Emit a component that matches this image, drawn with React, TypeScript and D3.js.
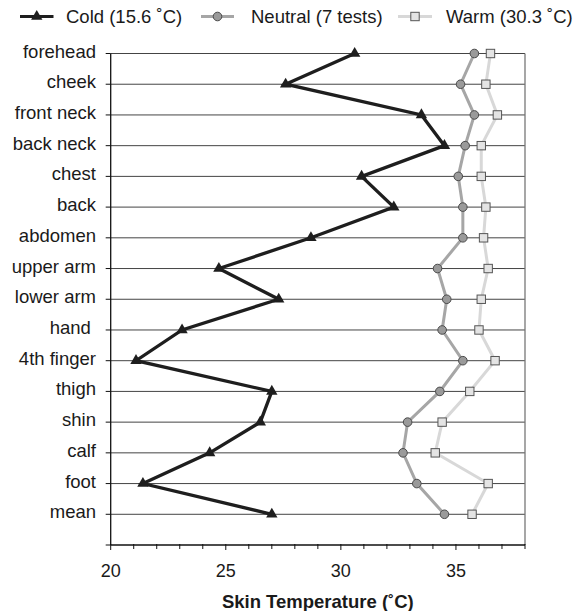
import React, { useEffect, useRef } from "react";
import * as d3 from "d3";

const categories = [
  "forehead", "cheek", "front neck", "back neck", "chest", "back", "abdomen",
  "upper arm", "lower arm", "hand\u00a0", "4th finger", "thigh", "shin", "calf", "foot", "mean",
];
const coldValues = [30.6, 27.6, 33.5, 34.5, 30.9, 32.3, 28.7, 24.7, 27.3, 23.1, 21.1, 27.0, 26.5, 24.3, 21.4, 27.0];
const neutralValues = [35.8, 35.2, 35.8, 35.4, 35.1, 35.3, 35.3, 34.2, 34.6, 34.4, 35.3, 34.3, 32.9, 32.7, 33.3, 34.5];
const warmValues = [36.5, 36.3, 36.8, 36.1, 36.1, 36.3, 36.2, 36.4, 36.1, 36.0, 36.7, 35.6, 34.4, 34.1, 36.4, 35.7];
const xTicks = [20, 25, 30, 35];
const legendLabels = ["Cold (15.6 \u02daC)", "Neutral (7 tests)", "Warm (30.3 \u02daC)"];
const xTitle = "Skin Temperature (\u02daC)";

const FONT = "Liberation Sans, Arial, sans-serif";

const App: React.FC = () => {
  const svgRef = useRef<SVGSVGElement | null>(null);

  useEffect(() => {
    if (!svgRef.current) return;
    document.body.style.margin = "0";
    const svg = d3.select(svgRef.current);
    svg.selectAll("*").remove();

    const width = 575;
    const height = 611;
    svg.attr("width", width).attr("height", height);

    const x = d3.scaleLinear().domain([20, 38]).range([110.7, 525]);
    const y = d3.scaleLinear().domain([0, 16]).range([53.5, 545]);
    const idx = d3.range(categories.length);

    // gridlines
    svg.append("g")
      .selectAll("line")
      .data(idx)
      .enter()
      .append("line")
      .attr("x1", x(20)).attr("x2", x(38))
      .attr("y1", (i) => y(i)).attr("y2", (i) => y(i))
      .attr("stroke", "#444").attr("stroke-width", 1);

    // right border
    svg.append("line")
      .attr("x1", x(38)).attr("x2", x(38))
      .attr("y1", y(0)).attr("y2", y(16))
      .attr("stroke", "#777").attr("stroke-width", 1.3);

    // y axis
    svg.append("line")
      .attr("x1", x(20)).attr("x2", x(20))
      .attr("y1", y(0)).attr("y2", y(16))
      .attr("stroke", "#111").attr("stroke-width", 1.3);
    svg.append("g")
      .selectAll("line")
      .data(d3.range(17))
      .enter()
      .append("line")
      .attr("x1", x(20) - 5).attr("x2", x(20))
      .attr("y1", (i) => y(i)).attr("y2", (i) => y(i))
      .attr("stroke", "#111").attr("stroke-width", 1);

    svg.append("g")
      .selectAll("text")
      .data(categories)
      .enter()
      .append("text")
      .attr("x", 96)
      .attr("y", (_, i) => y(i) + 4)
      .attr("text-anchor", "end")
      .style("white-space", "pre")
      .attr("font-family", FONT)
      .attr("font-size", 18.5)
      .attr("fill", "#1a1a1a")
      .text((d) => d);

    // x axis
    svg.append("line")
      .attr("x1", x(20)).attr("x2", x(38))
      .attr("y1", y(16)).attr("y2", y(16))
      .attr("stroke", "#111").attr("stroke-width", 1.3);
    svg.append("g")
      .selectAll("line")
      .data(d3.range(20, 39))
      .enter()
      .append("line")
      .attr("x1", (d) => x(d)).attr("x2", (d) => x(d))
      .attr("y1", y(16) - 1)
      .attr("y2", (d) => y(16) + (d % 5 === 0 ? 5 : 4))
      .attr("stroke", "#111").attr("stroke-width", 1);

    svg.append("g")
      .selectAll("text")
      .data(xTicks)
      .enter()
      .append("text")
      .attr("x", (d) => x(d))
      .attr("y", 577)
      .attr("text-anchor", "middle")
      .attr("font-family", FONT)
      .attr("font-size", 18)
      .attr("fill", "#1a1a1a")
      .text((d) => d);

    svg.append("text")
      .attr("x", (x(20) + x(38)) / 2)
      .attr("y", 608)
      .attr("text-anchor", "middle")
      .attr("font-family", FONT)
      .attr("font-size", 18.5)
      .attr("font-weight", "bold")
      .attr("fill", "#1a1a1a")
      .text(xTitle);

    // series
    const series = [
      { values: warmValues, line: "#d8d8d8", kind: "square", w: 3 },
      { values: neutralValues, line: "#a6a6a6", kind: "circle", w: 3 },
      { values: coldValues, line: "#1e1e1e", kind: "triangle", w: 3.3 },
    ];

    const tri = d3.symbol().type(d3.symbolTriangle).size(56);

    const drawMarker = (g: d3.Selection<SVGGElement, unknown, null, undefined>, kind: string, cx: number, cy: number) => {
      if (kind === "circle") {
        g.append("circle").attr("cx", cx).attr("cy", cy).attr("r", 4.3)
          .attr("fill", "#9a9a9a").attr("stroke", "#4a4a4a").attr("stroke-width", 1);
      } else if (kind === "square") {
        g.append("rect").attr("x", cx - 4.2).attr("y", cy - 4.2).attr("width", 8.4).attr("height", 8.4)
          .attr("fill", "#e4e4e4").attr("stroke", "#555").attr("stroke-width", 1);
      } else {
        g.append("path").attr("d", tri() || "").attr("transform", `translate(${cx},${cy})`)
          .attr("fill", "#1e1e1e");
      }
    };

    const line = d3.line<number>().x((d) => x(d)).y((_, i) => y(i));

    series.forEach((s) => {
      const g = svg.append("g");
      g.append("path")
        .attr("d", line(s.values) || "")
        .attr("fill", "none")
        .attr("stroke", s.line)
        .attr("stroke-width", s.w)
        .attr("stroke-linejoin", "miter");
      s.values.forEach((v, i) => drawMarker(g, s.kind, x(v), y(i)));
    });

    // legend
    const legendItems = [
      { label: legendLabels[0], line: "#1e1e1e", kind: "triangle", x0: 20, x1: 53.5, tx: 66 },
      { label: legendLabels[1], line: "#a6a6a6", kind: "circle", x0: 201, x1: 234, tx: 251 },
      { label: legendLabels[2], line: "#d8d8d8", kind: "square", x0: 398, x1: 432, tx: 446 },
    ];
    const ly = 16.5;
    legendItems.forEach((it) => {
      const g = svg.append("g");
      g.append("line").attr("x1", it.x0).attr("x2", it.x1).attr("y1", ly).attr("y2", ly)
        .attr("stroke", it.line).attr("stroke-width", 3);
      drawMarker(g, it.kind, (it.x0 + it.x1) / 2, ly);
      g.append("text").attr("x", it.tx).attr("y", ly + 6.5)
        .attr("font-family", FONT).attr("font-size", 18.5).attr("fill", "#1a1a1a")
        .text(it.label);
    });
  }, []);

  return <svg ref={svgRef} style={{ display: "block" }}></svg>;
};

export default App;
